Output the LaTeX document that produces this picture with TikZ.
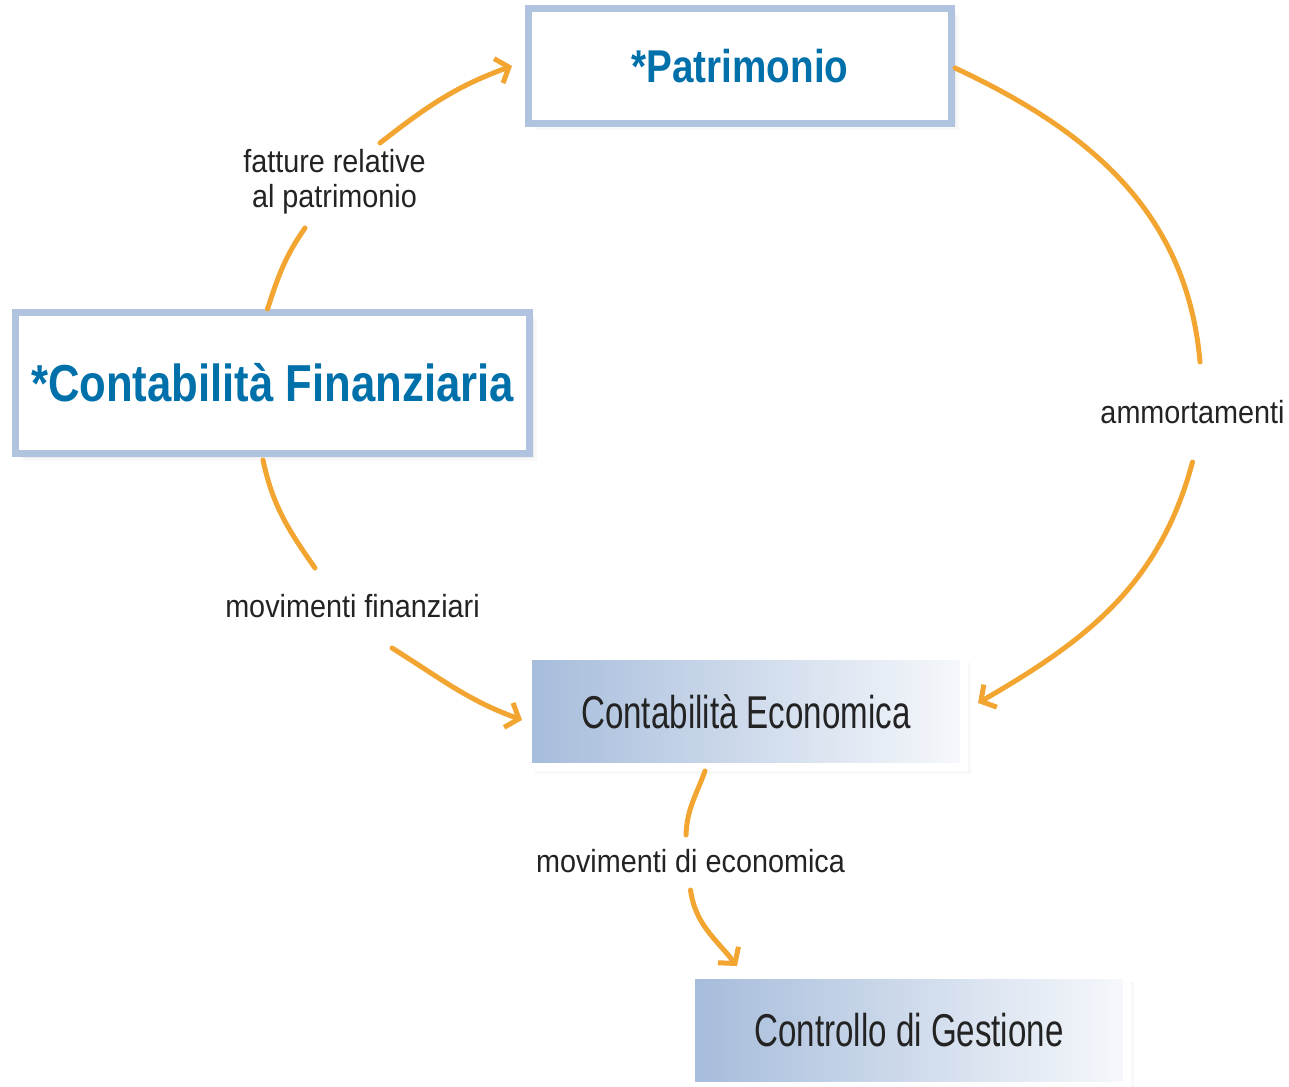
\documentclass[tikz,border=0pt]{standalone}
\usepackage{fontspec}
\setmainfont{Liberation Sans}
\newfontfamily\lblfont{Liberation Sans}[FakeStretch=0.9]
\newfontfamily\boxfont{Liberation Sans}[FakeStretch=0.72]
\newfontfamily\headfont{Liberation Sans}[FakeStretch=0.84]
\usetikzlibrary{arrows.meta,shadows}

\definecolor{arancio}{RGB}{243,165,50}
\definecolor{bordo}{RGB}{176,196,224}
\definecolor{blutesto}{RGB}{0,112,170}
\definecolor{sfondo}{RGB}{166,188,219}
\definecolor{testo}{RGB}{35,35,35}

\begin{document}
\begin{tikzpicture}[
        x = 1pt, y = 1pt,
        ombra/.style = {
            drop shadow = {shadow xshift=7pt, shadow yshift=-7pt, opacity=0.06},
            drop shadow = {shadow xshift=4pt, shadow yshift=-4pt, opacity=0.10},
        },
        cornice/.style = {
            ombra,
            draw = bordo, line width = 7pt,
            fill = white,
            minimum width = 423pt, minimum height = 115pt,
            text = blutesto,
            font = \headfont\bfseries\fontsize{46}{50}\selectfont,
        },
        quadro/.style = {
            ombra,
            draw = white, line width = 8pt,
            left color = sfondo, right color = sfondo!10!white,
            minimum width = 436pt, minimum height = 111pt,
            text = testo,
            font = \boxfont\fontsize{46}{50}\selectfont,
        },
        etichetta/.style = {
            text = testo, align = center, inner sep = 0pt,
            font = \lblfont\fontsize{32}{35}\selectfont,
        },
        tratto/.style = {arancio, line width = 5pt, line cap = round},
        freccia/.style = {tratto, -{Straight Barb[length=11pt, width=26pt]}},
    ]
    \useasboundingbox (0,0) rectangle (1289,-1086);

    \node[cornice] (pat) at (740,-66) {*Patrimonio};
    \node[cornice, minimum width = 514pt, minimum height = 141pt,
          font = \headfont\bfseries\fontsize{52}{56}\selectfont]
        (fin) at (272.5,-383) {*Contabilità Finanziaria};

    \node[quadro] (eco)  at (746,-711.5)  {Contabilità Economica};
    \node[quadro] (ctrl) at (909,-1030.5) {Controllo di Gestione};

    \node[etichetta] (lab1) at (334.5,-182) {fatture relative\\al patrimonio};
    \node[etichetta] (lab2) at (1192.5,-412) {ammortamenti};
    \node[etichetta] (lab3) at (352.5,-606) {movimenti finanziari};
    \node[etichetta] (lab4) at (690.5,-861) {movimenti di economica};

    % fatture relative al patrimonio
    \path[tratto] ([xshift=-5pt]fin.north)
        edge[out=72,in=235] ([xshift=-29.5pt,yshift=-46pt]lab1.center);
    \path[freccia] ([xshift=45.5pt,yshift=39pt]lab1.center)
        edge[out=38,in=200] ([xshift=-13pt]pat.west);

    % ammortamenti
    \path[tratto] ([yshift=-2pt]pat.east)
        edge[out=-25,in=95] ([xshift=7.5pt,yshift=50pt]lab2.center);
    \path[freccia] ([yshift=-50pt]lab2.center)
        edge[out=-105,in=30] ([xshift=10pt,yshift=8.5pt]eco.east);

    % movimenti finanziari
    \path[tratto] ([xshift=-9.5pt,yshift=-3pt]fin.south)
        edge[out=-78,in=125] ([xshift=-37.5pt,yshift=38pt]lab3.center);
    \path[freccia] ([xshift=39.5pt,yshift=-42pt]lab3.center)
        edge[out=-32,in=160] ([xshift=-2pt,yshift=-8.5pt]eco.west);

    % movimenti di economica
    \path[tratto] ([xshift=-41pt]eco.south)
        edge[out=-110,in=88] ([xshift=-4.5pt,yshift=26pt]lab4.center);
    \path[freccia] ([yshift=-29pt]lab4.center)
        edge[out=-82,in=128] ([xshift=-172pt,yshift=5pt]ctrl.north);
\end{tikzpicture}
\end{document}
